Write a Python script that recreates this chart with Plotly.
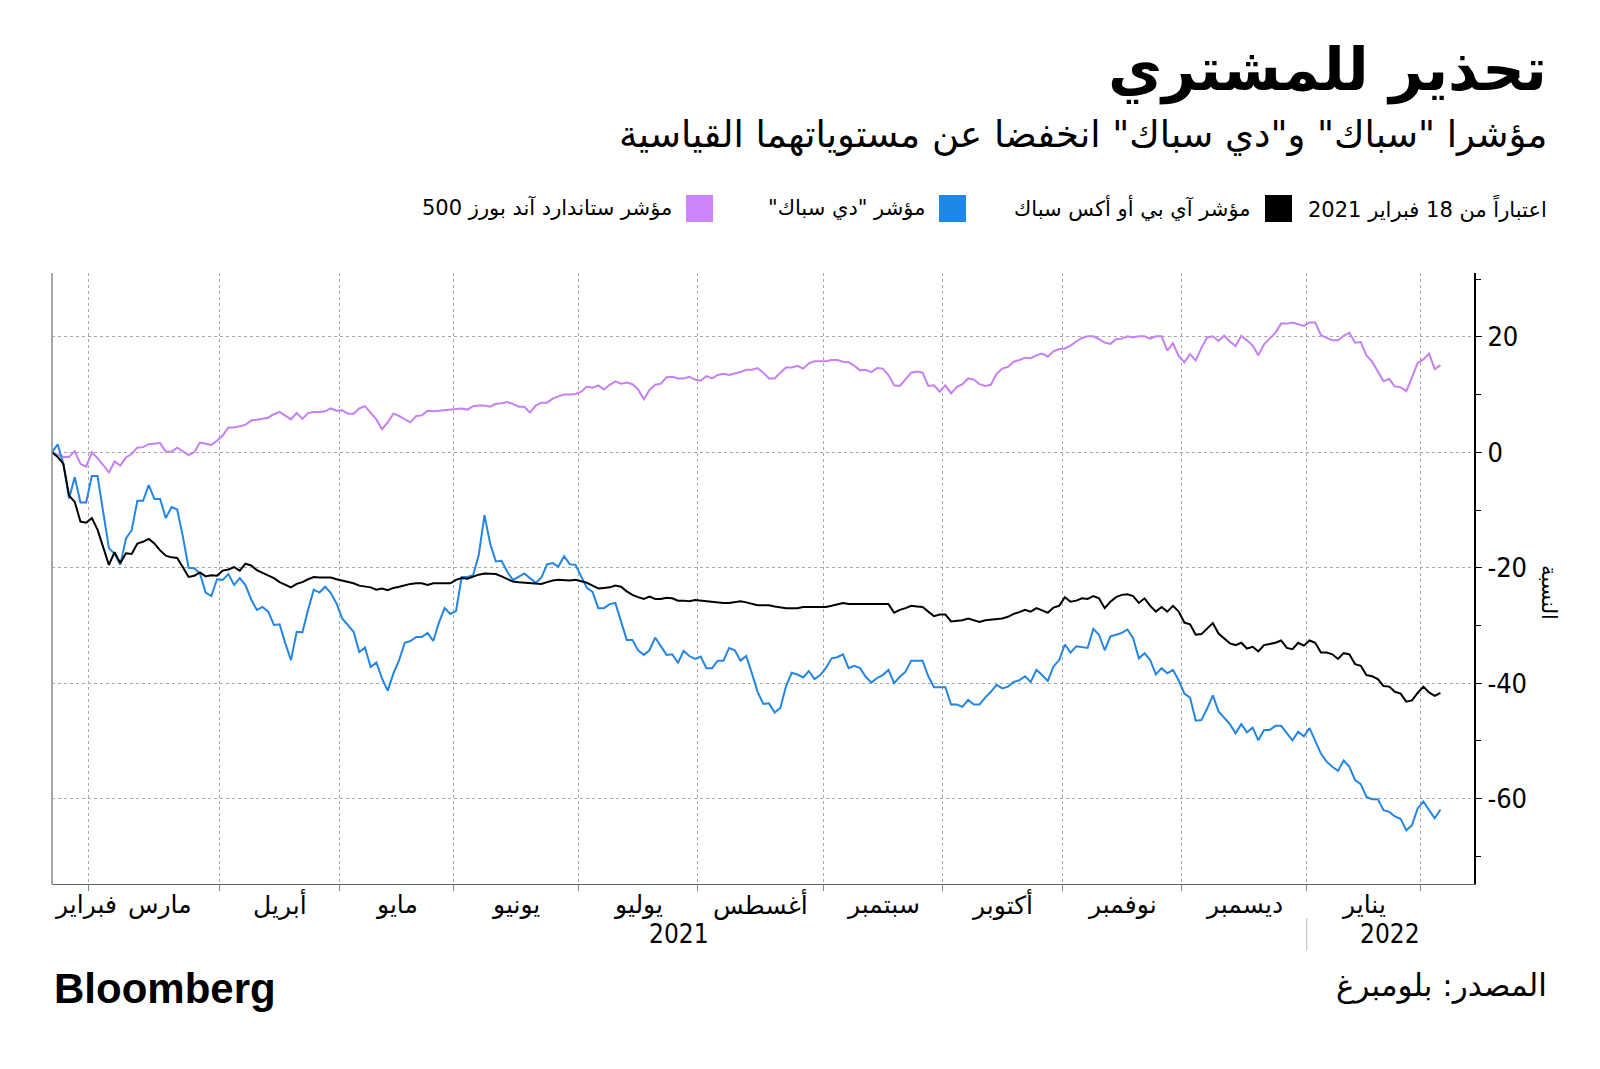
import plotly.graph_objects as go
import pandas as pd

# ---------------- data ----------------
holidays = ["2021-04-02", "2021-05-31", "2021-07-05", "2021-09-06",
            "2021-11-25", "2021-12-24", "2022-01-17"]
dates = pd.bdate_range("2021-02-18", "2022-02-04", freq="C", holidays=holidays)

sp500 = [
    0, -0.4, -0.8, -0.8, 0.2, -2.0, -2.5, 0.0, -1.0, -2.2,
    -3.5, -1.6, -2.3, -0.9, -0.3, 0.8, 0.9, 1.4, 1.5, 1.6,
    0.1, 0.1, 0.8, 0.2, -0.5, 0.0, 1.7, 1.5, 1.3, 2.0,
    2.9, 4.3, 4.3, 4.5, 4.8, 5.5, 5.6, 5.8, 6.0, 6.6,
    7.0, 6.4, 5.7, 6.8, 5.8, 6.8, 7.0, 7.0, 7.1, 7.6,
    7.2, 7.3, 6.7, 6.7, 7.6, 8.0, 6.9, 5.7, 4.0, 5.2,
    6.7, 6.3, 5.7, 5.2, 6.3, 6.4, 7.2, 7.1, 7.2, 7.3,
    7.5, 7.6, 7.6, 7.4, 8.0, 8.1, 8.1, 7.9, 8.4, 8.5,
    8.7, 8.4, 7.9, 7.9, 6.9, 8.1, 8.6, 8.6, 9.3, 9.7,
    10.0, 10.0, 10.1, 10.5, 11.4, 11.2, 11.6, 10.9, 11.7, 12.3,
    11.9, 12.1, 11.8, 10.9, 9.2, 10.8, 11.7, 11.9, 13.0, 13.1,
    12.8, 12.8, 13.1, 12.6, 12.4, 13.2, 12.8, 13.4, 13.6, 13.4,
    13.6, 13.9, 14.3, 14.3, 14.6, 13.8, 12.8, 12.8, 13.8, 14.7,
    14.7, 15.0, 14.5, 15.4, 15.8, 15.8, 15.8, 16.0, 16.0, 15.7,
    15.6, 15.0, 14.2, 14.3, 13.9, 14.6, 14.5, 13.4, 11.6, 11.5,
    12.6, 13.8, 14.0, 13.8, 11.5, 11.6, 10.5, 11.6, 10.2, 11.3,
    11.8, 12.8, 12.6, 11.8, 11.5, 11.7, 13.6, 14.5, 14.8, 15.7,
    16.0, 16.4, 16.3, 16.8, 17.1, 16.6, 17.5, 17.9, 18.0, 18.5,
    19.2, 19.8, 20.1, 20.1, 19.6, 19.0, 18.8, 19.6, 19.7, 20.1,
    19.9, 20.1, 20.1, 19.7, 20.1, 20.1, 17.6, 18.9, 16.7, 15.6,
    17.0, 15.9, 18.1, 19.9, 20.1, 19.3, 20.2, 19.2, 18.4, 20.2,
    19.4, 18.5, 16.8, 18.7, 19.7, 20.7, 22.3, 22.3, 22.5, 22.2,
    21.9, 22.5, 22.5, 20.3, 19.9, 19.4, 19.4, 20.2, 20.7, 19.0,
    19.1, 16.8, 15.7, 14.0, 12.3, 12.7, 11.4, 11.3, 10.6, 13.0,
    15.5, 16.1, 17.1, 14.4, 15.1,
]

ipox_spac = [
    0, -0.8, -2.0, -7.5, -8.6, -12.0, -12.2, -11.4, -13.4, -16.5,
    -19.5, -17.3, -19.2, -17.5, -17.6, -15.8, -15.5, -15.0, -15.8, -17.0,
    -17.9, -18.2, -18.3, -19.9, -21.6, -21.4, -20.8, -21.5, -21.3, -21.4,
    -20.5, -20.3, -19.9, -20.5, -19.3, -19.6, -20.4, -20.9, -21.3, -21.8,
    -22.5, -23.0, -23.4, -22.8, -22.5, -22.0, -21.6, -21.7, -21.7, -21.7,
    -22.0, -22.2, -22.5, -22.7, -23.1, -23.2, -23.4, -23.8, -23.6, -23.9,
    -23.5, -23.3, -23.0, -22.8, -22.7, -22.7, -23.0, -22.7, -22.7, -22.7,
    -22.7, -22.1, -21.8, -21.9, -21.5, -21.2, -21.0, -21.1, -21.1, -21.5,
    -22.0, -22.4, -22.5, -22.6, -22.7, -22.8, -22.8, -22.5, -22.2, -22.1,
    -22.2, -22.2, -22.1, -22.3, -22.6, -23.1, -23.6, -23.5, -23.4, -23.1,
    -23.3, -24.1, -24.7, -25.1, -25.4, -25.0, -25.4, -25.4, -25.2, -25.3,
    -25.7, -25.7, -25.8, -25.6, -25.7, -25.9, -26.0, -26.1, -26.1, -26.1,
    -25.9, -25.8, -26.0, -26.3, -26.5, -26.5, -26.5, -26.7, -26.9, -27.0,
    -27.0, -27.0, -26.8, -26.8, -26.8, -26.8, -26.8, -26.6, -26.3, -26.1,
    -26.3, -26.3, -26.3, -26.3, -26.3, -26.3, -26.3, -26.3, -27.8, -27.3,
    -27.0, -26.6, -26.7, -26.8, -27.6, -28.4, -28.1, -28.1, -29.3, -29.2,
    -29.1, -28.8, -29.1, -29.4, -29.1, -29.0, -28.8, -28.8, -28.5, -28.0,
    -27.7, -27.3, -27.6, -27.0, -27.4, -27.8, -26.9, -26.6, -25.1, -25.9,
    -25.7, -25.3, -25.4, -24.9, -25.3, -27.0, -25.9, -25.1, -24.7, -24.6,
    -24.9, -26.1, -25.3, -26.6, -27.6, -26.8, -27.6, -26.6, -27.6, -29.5,
    -29.8, -31.6, -31.5, -30.5, -29.6, -31.4, -32.3, -33.1, -33.4, -33.0,
    -34.0, -33.7, -34.5, -33.4, -33.2, -33.0, -32.6, -33.9, -34.1, -33.0,
    -33.5, -32.6, -33.0, -34.7, -34.7, -35.0, -35.8, -34.8, -35.0, -36.7,
    -37.0, -38.6, -38.8, -39.3, -40.5, -40.6, -41.5, -41.8, -43.2, -43.0,
    -41.7, -40.6, -41.6, -42.2, -41.7,
]

de_spac = [
    0, 1.4, -2.0, -8.0, -4.3, -8.7, -8.7, -4.1, -4.1, -10.5,
    -16.6, -17.6, -19.5, -14.9, -13.5, -8.4, -8.4, -5.7, -8.1, -8.1,
    -11.4, -9.5, -9.9, -14.6, -20.0, -20.1, -21.0, -24.3, -24.9, -22.0,
    -22.1, -21.1, -23.0, -21.8, -23.0, -25.5, -27.3, -26.8, -27.6, -29.9,
    -29.8, -33.1, -36.0, -31.1, -31.2, -27.3, -23.8, -24.3, -23.3, -24.4,
    -26.2, -28.8, -29.9, -31.1, -34.6, -33.8, -37.2, -36.4, -39.2, -41.3,
    -38.3, -36.0, -33.0, -32.7, -32.0, -32.0, -31.3, -32.7, -29.5, -27.0,
    -28.0, -27.5, -21.6, -21.6, -21.3, -17.8, -10.9, -15.8, -18.9, -18.8,
    -20.7, -22.1, -21.6, -21.0, -21.8, -22.6, -21.7, -19.4, -19.2, -19.8,
    -18.0, -19.4, -19.5, -21.4, -23.5, -24.2, -27.0, -27.0, -26.3, -26.1,
    -29.4, -32.5, -32.5, -34.3, -35.1, -34.3, -32.1, -33.7, -35.1, -35.0,
    -36.5, -34.4, -35.3, -35.8, -35.4, -37.4, -37.4, -36.1, -36.1, -33.9,
    -34.3, -36.1, -35.3, -38.3, -41.5, -43.6, -43.5, -45.1, -44.3, -40.5,
    -38.2, -38.5, -39.0, -37.9, -39.3, -38.6, -37.4, -35.7, -35.5, -35.0,
    -37.4, -37.0, -37.4, -38.9, -39.9, -39.1, -38.6, -37.7, -40.0, -38.9,
    -38.0, -36.1, -36.1, -36.1, -38.8, -40.7, -40.7, -40.7, -43.7, -43.7,
    -44.1, -42.9, -43.7, -43.7, -42.5, -41.5, -40.3, -40.9, -40.6, -39.8,
    -39.5, -38.8, -39.8, -37.7, -38.6, -39.6, -37.1, -36.0, -33.3, -34.7,
    -33.6, -33.7, -33.9, -30.6, -31.6, -34.3, -31.9, -31.6, -31.3, -30.7,
    -32.2, -35.7, -34.8, -36.0, -38.5, -37.4, -38.3, -37.7, -39.5, -41.8,
    -42.5, -46.5, -46.4, -44.4, -42.1, -44.9, -46.1, -47.1, -48.7, -47.1,
    -48.5, -47.7, -49.9, -48.1, -48.1, -47.4, -47.4, -48.6, -49.9, -48.4,
    -49.2, -47.8, -49.9, -52.2, -53.6, -54.5, -55.2, -53.4, -54.5, -56.8,
    -57.5, -59.7, -60.1, -60.1, -62.0, -62.3, -63.1, -63.5, -65.5, -64.6,
    -61.7, -60.5, -62.0, -63.4, -61.9,
]

month_names = {1: "يناير", 2: "فبراير", 3: "مارس", 4: "أبريل", 5: "مايو", 6: "يونيو",
               7: "يوليو", 8: "أغسطس", 9: "سبتمبر", 10: "أكتوبر", 11: "نوفمبر", 12: "ديسمبر"}
y_ticks = [20, 0, -20, -40, -60]
y_tick_text = ["20", "0", "-20", "-40", "-60"]

title = "تحذير للمشتري"
subtitle = "مؤشرا \"سباك\" و\"دي سباك\" انخفضا عن مستوياتهما القياسية"
legend_note = "اعتباراً من 18 فبراير 2021"
name_ipox = "مؤشر آي بي أو أكس سباك"
name_despac = "مؤشر \"دي سباك\"\u200f"
name_sp = "مؤشر ستاندارد آند بورز 500"
source = "المصدر: بلومبرغ"
y_title = "النسبة"

# ---------------- style ----------------
C_BLACK = "#000000"
C_BLUE = "#2486E2"
C_PURPLE = "#C680F2"
AR_FONT = "DejaVu Sans"
NUM_FONT = "DejaVu Sans Condensed, DejaVu Sans"

OFF = 8                      # default body margin of the html page
FIG_W, FIG_H = 1600 - OFF, 1069 - OFF
# plot area in page pixels (reference coordinates)
L, R, T, B = 52, 1474, 273, 884
X_MAX = 249.9
Y_MIN, Y_MAX = -74.8, 31.07


def PX(px):
    return (px - L) / (R - L)


def PY(py):
    return (B - py) / (B - T)


n = len(dates)
xs = list(range(n))

# month boundaries / groups
groups = []
start = 0
for i in range(1, n + 1):
    if i == n or dates[i].month != dates[i - 1].month:
        groups.append((start, i - 1, dates[start].year, dates[start].month))
        start = i
boundaries = [g[0] - 0.5 for g in groups[1:]]
jan_boundary = [g[0] - 0.5 for g in groups if g[3] == 1][0]

fig = go.Figure()
fig.add_trace(go.Scatter(x=xs, y=sp500, mode="lines", line=dict(color=C_PURPLE, width=2),
                         hoverinfo="skip", showlegend=False))
fig.add_trace(go.Scatter(x=xs, y=de_spac, mode="lines", line=dict(color=C_BLUE, width=2),
                         hoverinfo="skip", showlegend=False))
fig.add_trace(go.Scatter(x=xs, y=ipox_spac, mode="lines", line=dict(color=C_BLACK, width=2),
                         hoverinfo="skip", showlegend=False))
# triangle tick marks on the right axis
fig.add_trace(go.Scatter(x=[X_MAX + 0.8] * len(y_ticks), y=y_ticks, mode="markers",
                         marker=dict(symbol="triangle-right", size=9, color="black"),
                         cliponaxis=False, hoverinfo="skip", showlegend=False))

annotations = []
shapes = []

MONTH_FONT = dict(family=AR_FONT, size=25, color="black")
# month labels
for (s, e, yr, mo) in groups:
    if yr == 2022 and mo == 2:
        continue
    if s == 0:
        annotations.append(dict(x=0, xref="x", y=PY(904), yref="paper", text=month_names[mo],
                                xanchor="left", yanchor="middle", showarrow=False, font=MONTH_FONT))
    else:
        xc = (s + e) / 2 + (1.0 if mo == 3 else 0)
        annotations.append(dict(x=xc, xref="x", y=PY(904), yref="paper",
                                text=month_names[mo], xanchor="center", yanchor="middle",
                                showarrow=False, font=MONTH_FONT))
# year labels
annotations.append(dict(x=jan_boundary / 2, xref="x", y=PY(934), yref="paper", text="2021",
                        showarrow=False, xanchor="center", yanchor="middle",
                        font=dict(family=NUM_FONT, size=26, color="black")))
annotations.append(dict(x=(jan_boundary + X_MAX) / 2, xref="x", y=PY(934), yref="paper", text="2022",
                        showarrow=False, xanchor="center", yanchor="middle",
                        font=dict(family=NUM_FONT, size=26, color="black")))
shapes.append(dict(type="line", xref="x", yref="paper", x0=jan_boundary, x1=jan_boundary,
                   y0=PY(918), y1=PY(950), line=dict(color="#bbbbbb", width=1)))
# left border line
shapes.append(dict(type="line", xref="paper", yref="paper", x0=0, x1=0, y0=0, y1=1,
                   line=dict(color="#8a8a8a", width=1.5)))

# title / subtitle
annotations.append(dict(x=PX(1549), xref="paper", y=PY(70), yref="paper", text="<b>" + title + "</b>",
                        xanchor="right", yanchor="middle", showarrow=False,
                        font=dict(family=AR_FONT, size=59, color="black")))
annotations.append(dict(x=PX(1549), xref="paper", y=PY(135), yref="paper", text=subtitle,
                        xanchor="right", yanchor="middle", showarrow=False,
                        font=dict(family=AR_FONT, size=37, color="black")))

# legend row
LEG_Y = 208
leg_font = dict(family=AR_FONT, size=21, color="black")
annotations.append(dict(x=PX(1549), xref="paper", y=PY(LEG_Y), yref="paper", text=legend_note,
                        xanchor="right", yanchor="middle", showarrow=False, font=leg_font))
for sq_x0, color, label in [(1265, C_BLACK, name_ipox), (939, "#1E88E8", name_despac),
                            (686, "#CC85FA", name_sp)]:
    shapes.append(dict(type="rect", xref="paper", yref="paper", x0=PX(sq_x0), x1=PX(sq_x0 + 27),
                       y0=PY(LEG_Y - 13), y1=PY(LEG_Y + 14), fillcolor=color, line=dict(width=0)))
    annotations.append(dict(x=PX(sq_x0 - 12), xref="paper", y=PY(LEG_Y), yref="paper", text=label,
                            xanchor="right", yanchor="middle", showarrow=False, font=leg_font))

# y-axis title
annotations.append(dict(x=PX(1549), xref="paper", y=PY(593), yref="paper", text=y_title,
                        textangle=90, xanchor="center", yanchor="middle", showarrow=False,
                        font=dict(family=AR_FONT, size=21, color="black")))

# footer
annotations.append(dict(x=PX(52), xref="paper", y=PY(989), yref="paper", text="<b>Bloomberg</b>",
                        xanchor="left", yanchor="middle", showarrow=False,
                        font=dict(family="Liberation Sans", size=42, color="black")))
annotations.append(dict(x=PX(1549), xref="paper", y=PY(985), yref="paper", text=source,
                        xanchor="right", yanchor="middle", showarrow=False,
                        font=dict(family=AR_FONT, size=31, color="black")))

fig.update_layout(
    width=FIG_W, height=FIG_H, autosize=False,
    margin=dict(l=L - OFF, r=FIG_W - (R - OFF), t=T - OFF, b=FIG_H - (B - OFF), pad=0),
    paper_bgcolor="white", plot_bgcolor="white",
    showlegend=False,
    annotations=annotations, shapes=shapes,
    xaxis=dict(range=[0, X_MAX], tickvals=boundaries, showticklabels=False,
               ticks="outside", ticklen=6, tickcolor="#888888", tickwidth=1,
               showgrid=True, gridcolor="#a8a8a8", griddash="dot", gridwidth=1,
               showline=True, linecolor="#666666", linewidth=1.2, zeroline=False, fixedrange=True),
    yaxis=dict(range=[Y_MIN, Y_MAX], side="right", tickvals=y_ticks, ticktext=y_tick_text,
               ticks="outside", ticklen=6, tickcolor="black", tickwidth=1,
               tickfont=dict(family=NUM_FONT, size=27, color="black"),
               minor=dict(dtick=10, tick0=0, ticks="outside", ticklen=5, tickcolor="black", showgrid=False),
               showgrid=True, gridcolor="#a8a8a8", griddash="dot", gridwidth=1,
               showline=True, linecolor="black", linewidth=2, zeroline=False, fixedrange=True),
)

fig.write_html("out.html")
